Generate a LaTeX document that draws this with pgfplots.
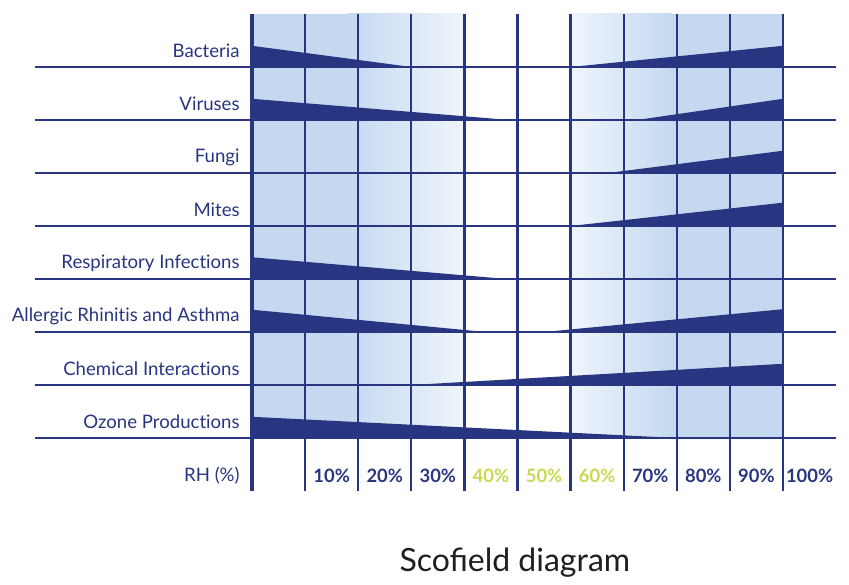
\documentclass[border=0pt]{standalone}
\usepackage{fontspec}
\setmainfont{Lato}
\newfontfamily\labelfont[Ligatures=NoCommon]{Lato}
\usepackage{pgfplots}
\pgfplotsset{compat=1.18}
\definecolor{navy}{RGB}{40,53,128}
\definecolor{shadeblue}{RGB}{196,217,240}
\definecolor{shadelight}{RGB}{240,245,252}
\definecolor{rhgreen}{RGB}{200,216,80}
\begin{document}
\begin{tikzpicture}
\begin{axis}[
  x=26.55pt, y=26.5pt,
  xmin=0, xmax=11, ymin=0, ymax=9,
  clip=false,
  axis line style={draw=none},
  major tick length=0pt,
  ytick={0.28,1.3,2.3,3.3,4.3,5.3,6.3,7.3,8.3},
  yticklabels={RH (\%),Ozone Productions,Chemical Interactions,Allergic Rhinitis and Asthma,Respiratory Infections,Mites,Fungi,Viruses,Bacteria},
  yticklabel style={anchor=east, inner sep=0pt, xshift=-6pt, font=\labelfont\fontsize{9.3}{11}\selectfont, text=navy},
  xtick={1.5,2.5,3.5,4.5,5.5,6.5,7.5,8.5,9.5,10.5},
  xticklabels={10\%,20\%,30\%,\textcolor{rhgreen}{40\%},\textcolor{rhgreen}{50\%},\textcolor{rhgreen}{60\%},70\%,80\%,90\%,100\%},
  xticklabel style={anchor=center, inner sep=0pt, yshift=7.5pt, font=\fontsize{9.2}{11}\selectfont\bfseries, text=navy},
]
% bounding box of the whole picture
\path (axis cs:-4.746,-1.698) rectangle (axis cs:11.243,9.264);
% background shading
\addplot[draw=none, fill=shadeblue] coordinates {(0,1) (1.8,1) (1.8,9) (0,9)} -- cycle;
\addplot[draw=none, left color=shadeblue, right color=shadelight, shading=axis, shading angle=90] coordinates {(1.8,1) (4,1) (4,9) (1.8,9)} -- cycle;
\addplot[draw=none, left color=shadelight, right color=shadeblue, shading=axis, shading angle=90] coordinates {(6,1) (7.9,1) (7.9,9) (6,9)} -- cycle;
\addplot[draw=none, fill=shadeblue] coordinates {(7.9,1) (10,1) (10,9) (7.9,9)} -- cycle;
% wedges: left (decreasing)
\addplot[draw=none, fill=navy] coordinates {(0,8) (0,8.40) (3.0,8)} -- cycle;
\addplot[draw=none, fill=navy] coordinates {(0,7) (0,7.40) (4.85,7)} -- cycle;
\addplot[draw=none, fill=navy] coordinates {(0,4) (0,4.41) (4.8,4)} -- cycle;
\addplot[draw=none, fill=navy] coordinates {(0,3) (0,3.42) (4.4,3)} -- cycle;
\addplot[draw=none, fill=navy] coordinates {(0,1) (0,1.40) (8.0,1)} -- cycle;
% wedges: right (increasing)
\addplot[draw=none, fill=navy] coordinates {(6.0,8) (10,8.40) (10,8)} -- cycle;
\addplot[draw=none, fill=navy] coordinates {(7.25,7) (10,7.40) (10,7)} -- cycle;
\addplot[draw=none, fill=navy] coordinates {(6.7,6) (10,6.42) (10,6)} -- cycle;
\addplot[draw=none, fill=navy] coordinates {(6.0,5) (10,5.44) (10,5)} -- cycle;
\addplot[draw=none, fill=navy] coordinates {(5.5,3) (10,3.43) (10,3)} -- cycle;
\addplot[draw=none, fill=navy] coordinates {(3.0,2) (10,2.40) (10,2)} -- cycle;
% grid lines
\foreach \yy in {1,...,8} {
  \edef\tmp{\noexpand\draw[navy, line width=1.1pt] (axis cs:-4.09,\yy) -- (axis cs:11,\yy);}\tmp
}
\foreach \xx in {1,2,3,4,5,7,8,9,10} {
  \edef\tmp{\noexpand\draw[navy, line width=1.1pt] (axis cs:\xx,0) -- (axis cs:\xx,9);}\tmp
}
\draw[navy, line width=1.6pt] (axis cs:0,0) -- (axis cs:0,9);
\draw[navy, line width=1.6pt] (axis cs:6,0) -- (axis cs:6,9);
% title
\node[font=\fontsize{16}{19}\selectfont, text=black!88] at (axis cs:4.95,-1.36) {Scofield diagram};
\end{axis}
\end{tikzpicture}
\end{document}
